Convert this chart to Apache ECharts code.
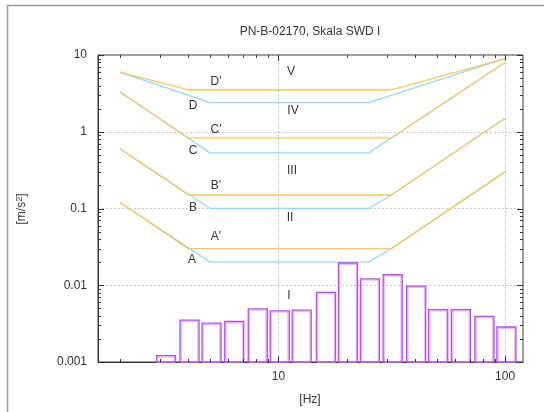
<!DOCTYPE html>
<html>
<head>
<meta charset="utf-8">
<script src="https://cdn.jsdelivr.net/npm/echarts@6/dist/echarts.min.js"></script>
<style>html,body{margin:0;padding:0;background:#fff;}#c{width:544px;height:412px;}</style>
</head>
<body>
<div id="c"></div>
<script>
// ---- data ----
const bandCenters = [3.15, 4, 5, 6.3, 8, 10, 12.5, 16, 20, 25, 31.5, 40, 50, 63, 80, 100];
const bandValues  = [0.00123, 0.00356, 0.00325, 0.00342, 0.0050, 0.0047, 0.0048, 0.0082, 0.0198, 0.0123, 0.0139, 0.0099, 0.0049, 0.0049, 0.0040, 0.0029];

const lineAPrime = [[2, 0.12], [4, 0.03], [31.5, 0.03], [100, 0.3]];
const lineBPrime = [[2, 0.6], [4, 0.15], [31.5, 0.15], [100, 1.5]];
const lineCPrime = [[2, 3.3], [4, 0.83], [31.5, 0.83], [100, 8]];
const lineDPrime = [[2, 6], [4, 3.5], [31.5, 3.5], [100, 9]];

const lineA = [[2, 0.12], [5, 0.02], [25, 0.02], [31.5, 0.03], [100, 0.3]];
const lineB = [[2, 0.6], [5, 0.1], [25, 0.1], [31.5, 0.15], [100, 1.5]];
const lineC = [[2, 3.3], [5, 0.53], [25, 0.53], [31.5, 0.83], [100, 8]];
const lineD = [[2, 6], [5, 2.4], [25, 2.4], [100, 9]];

const xTickValues = [10, 100];
const yTickValues = [0.001, 0.01, 0.1, 1, 10];

const titleText = 'PN-B-02170, Skala SWD I';
const xName = '[Hz]';

// ---- chart ----
const chart = echarts.init(document.getElementById('c'), null, {renderer: 'canvas'});
const FONT = '"Liberation Sans", Arial, sans-serif';
const ORANGE = '#f5c868';
const BLUE = '#9ad6f4';
const TXT = '#333';

function isPow10(v) {
  const l = Math.log10(v);
  return Math.abs(l - Math.round(l)) < 1e-6;
}
function fmt(v) { return String(Number(v.toPrecision(6))); }

function lineSeries(data, color, z) {
  return {type: 'line', data: data, symbol: 'none', silent: true, z: z,
    lineStyle: {color: color, width: 1.3}, animation: false};
}

const XMIN = 1.6, XMAX = 120, YMIN = 0.001, YMAX = 10;

const option = {
  animation: false,
  grid: {left: 98, right: 21, top: 55, bottom: 50, show: true, borderColor: '#333', borderWidth: 1, backgroundColor: 'transparent'},
  xAxis: {
    type: 'log', logBase: 10, min: XMIN, max: XMAX,
    axisLine: {show: true, lineStyle: {color: '#333', width: 1}},
    axisTick: {show: false},
    axisLabel: {color: TXT, fontSize: 12, fontFamily: FONT, margin: 9,
      formatter: v => (isPow10(v) && xTickValues.some(t => Math.abs(t - v) / t < 1e-6)) ? fmt(v) : ''},
    splitLine: {show: true, lineStyle: {color: '#b0b0b0', type: [1.5, 2.5], width: 1}}
  },
  yAxis: {
    type: 'log', logBase: 10, min: YMIN, max: YMAX,
    axisLine: {show: true, lineStyle: {color: '#333', width: 1}},
    axisTick: {show: false},
    axisLabel: {color: TXT, fontSize: 12, fontFamily: FONT, margin: 11,
      formatter: v => yTickValues.some(t => Math.abs(t - v) / t < 1e-6) ? fmt(v) : ''},
    splitLine: {show: true, lineStyle: {color: '#b0b0b0', type: [1.5, 2.5], width: 1}}
  },
  series: [
    {
      type: 'custom', silent: true, z: 5, data: [[10, 1]],
      renderItem: function (params, api) {
        const cs = params.coordSys;
        const left = cs.x, right = cs.x + cs.width, top = cs.y, bottom = cs.y + cs.height;
        const children = [];
        const st = {stroke: '#333', lineWidth: 1};
        for (const d of [1, 10, 100]) {
          for (let m = 1; m <= 9; m++) {
            const f = m * d;
            if (f < XMIN || f > XMAX) continue;
            const len = m === 1 ? 6 : 3;
            const x = Math.round(api.coord([f, 1])[0]) + 0.5;
            children.push({type: 'line', shape: {x1: x, y1: bottom, x2: x, y2: bottom - len}, style: st});
            children.push({type: 'line', shape: {x1: x, y1: top, x2: x, y2: top + len}, style: st});
          }
        }
        for (const d of [0.001, 0.01, 0.1, 1, 10]) {
          for (let m = 1; m <= 9; m++) {
            const v = m * d;
            if (v < YMIN * 0.999 || v > YMAX * 1.001) continue;
            const len = m === 1 ? 6 : 3;
            const y = Math.round(api.coord([10, v])[1]) + 0.5;
            children.push({type: 'line', shape: {x1: left, y1: y, x2: left + len, y2: y}, style: st});
            children.push({type: 'line', shape: {x1: right, y1: y, x2: right - len, y2: y}, style: st});
          }
        }
        return {type: 'group', children: children};
      }
    },
    {
      type: 'custom', silent: true, z: 3,
      data: bandCenters.map((f, i) => [f, bandValues[i]]),
      renderItem: function (params, api) {
        const f = api.value(0), v = api.value(1);
        const p1 = api.coord([f * Math.pow(2, -1 / 6), v]);
        const p2 = api.coord([f * Math.pow(2, 1 / 6), YMIN]);
        const x1 = p1[0] + 3.2, x2 = p2[0] - 0.5;
        const y1 = p1[1] + 0.5, y2 = p2[1];
        return {type: 'group', children: [
          {type: 'rect', shape: {x: x1 + 1.3, y: y1 + 1.3, width: x2 - x1 - 2.6, height: y2 - y1 - 1.3},
            style: {fill: 'none', stroke: '#e4bcf7', lineWidth: 1.3}},
          {type: 'rect', shape: {x: x1, y: y1, width: x2 - x1, height: y2 - y1},
            style: {fill: 'none', stroke: '#b350e6', lineWidth: 1.3}}
        ]};
      }
    },
    lineSeries(lineA, BLUE, 2),
    lineSeries(lineB, BLUE, 2),
    lineSeries(lineC, BLUE, 2),
    lineSeries(lineD, BLUE, 2),
    lineSeries(lineAPrime, ORANGE, 4),
    lineSeries(lineBPrime, ORANGE, 4),
    lineSeries(lineCPrime, ORANGE, 4),
    lineSeries(lineDPrime, ORANGE, 4)
  ],
  graphic: [
    {type: 'rect', silent: true, shape: {x: 7.5, y: 5.5, width: 700, height: 600},
      style: {fill: 'none', stroke: '#9a9a9a', lineWidth: 1.5}},
    {type: 'text', x: 310, y: 32, silent: true,
      style: {text: titleText, font: '12px ' + FONT, fill: TXT, align: 'center', verticalAlign: 'middle', textAlign: 'center', textVerticalAlign: 'middle'}},
    {type: 'text', x: 310, y: 400, silent: true,
      style: {text: xName, font: '12px ' + FONT, fill: TXT, align: 'center', verticalAlign: 'middle', textAlign: 'center', textVerticalAlign: 'middle'}},
    {type: 'text', x: 22, y: 209, rotation: Math.PI / 2, silent: true,
      style: {text: '[m/s{sup|2}]', font: '12px ' + FONT, fill: TXT, align: 'center', verticalAlign: 'middle', textAlign: 'center', textVerticalAlign: 'middle',
        rich: {sup: {fontSize: 9, fontFamily: FONT, fill: TXT, verticalAlign: 'top', lineHeight: 14, padding: [0, 0, 6, 0]}}}},
  ].concat([
    ['V', 291, 72], ["D'", 216, 82], ['D', 193, 106], ['IV', 293, 111],
    ["C'", 216, 130], ['C', 193, 151], ['III', 292, 171],
    ["B'", 216, 186], ['B', 193, 208], ['II', 290, 218],
    ["A'", 216, 237], ['A', 192, 260], ['I', 289, 296]
  ].map(t => ({type: 'text', x: t[1], y: t[2], silent: true, z: 10,
      style: {text: t[0], font: '12px ' + FONT, fill: TXT, align: 'center', verticalAlign: 'middle', textAlign: 'center', textVerticalAlign: 'middle'}})))
};
chart.setOption(option);
</script>
</body>
</html>
